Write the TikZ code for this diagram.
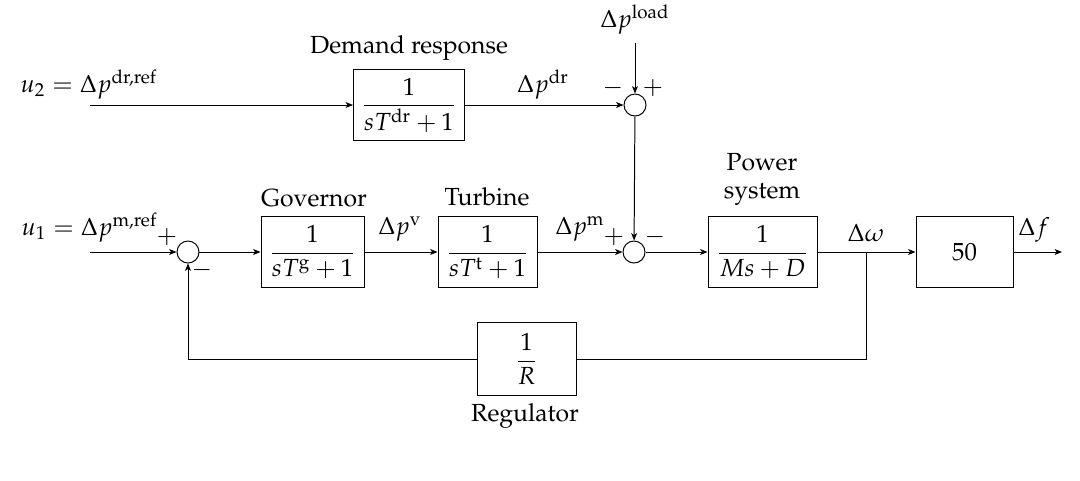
\documentclass[tikz,border=0pt]{standalone}
\usepackage[T1]{fontenc}
\usepackage{mathpazo}
\usetikzlibrary{arrows.meta}
\begin{document}
\begin{tikzpicture}[x=0.0142cm,y=-0.0142cm,
  arr/.style={-{Stealth[length=3pt,width=2.4pt,inset=0.8pt]}},
  blk/.style={draw, inner sep=2pt, minimum height=71*0.0142cm},
  sumnode/.style={draw, circle, inner sep=0pt, minimum size=22*0.0142cm},
  lbl/.style={anchor=base, inner sep=0pt}]
\useasboundingbox (0,0) rectangle (1080,480);

% top row
\coordinate (in2) at (90,105);
\node[blk, minimum width=111*0.0142cm] (dr) at (409,105) {$\displaystyle\frac{1}{sT^{\mathrm{dr}}+1}$};
\node[sumnode] (s0) at (635,105) {};
\coordinate (ld) at (635,43);
\node[lbl, anchor=base west] (lu2) at (20,92) {$u_2=\Delta p^{\mathrm{dr,ref}}$};
\node[lbl] (ldr) at (409,53) {Demand response};
\node[lbl] (lpdr) at (543,92) {$\Delta p^{\mathrm{dr}}$};
\node[lbl] (lload) at (635,27) {$\Delta p^{\mathrm{load}}$};
\node (m0) at (613,88) {$-$};
\node (p0) at (653,88) {$+$};

% bottom row
\coordinate (in1) at (90,252);
\node[sumnode] (s1) at (188,252) {};
\node[blk, minimum width=103*0.0142cm] (gov) at (312.5,252) {$\displaystyle\frac{1}{sT^{\mathrm{g}}+1}$};
\node[blk, minimum width=99*0.0142cm] (tur) at (487.5,252) {$\displaystyle\frac{1}{sT^{\mathrm{t}}+1}$};
\node[sumnode] (s2) at (634,252) {};
\node[blk, minimum width=109*0.0142cm] (ps) at (762.5,252) {$\displaystyle\frac{1}{Ms+D}$};
\node[blk, minimum width=97*0.0142cm] (fifty) at (964.5,252) {$50$};
\coordinate (out) at (1062,252);
\coordinate (br) at (866,252);
\coordinate (fbr) at (866,359);
\node[blk, minimum width=99*0.0142cm, minimum height=73*0.0142cm] (reg) at (526.5,359) {$\displaystyle\frac{1}{R}$};
\coordinate (fbl) at (188,359);

\node[lbl, anchor=base west] (lu1) at (21,235) {$u_1=\Delta p^{\mathrm{m,ref}}$};
\node (p1) at (167,237) {$+$};
\node (m1) at (202,270) {$-$};
\node[lbl] (lgov) at (314,206) {Governor};
\node[lbl] (lpv) at (400,234) {$\Delta p^{\mathrm{v}}$};
\node[lbl] (ltur) at (487,205) {Turbine};
\node[lbl] (lpm) at (580,234) {$\Delta p^{\mathrm{m}}$};
\node (p2) at (614,237) {$+$};
\node (m2) at (655,237) {$-$};
\node[lbl] (lps1) at (762,170) {Power};
\node[lbl] (lps2) at (762,198) {system};
\node[lbl] (lw) at (866,241) {$\Delta\omega$};
\node[lbl] (lf) at (1034,235) {$\Delta f$};
\node[lbl] (lreg) at (525,421) {Regulator};

% connectors
\draw[arr] (in2) -- (dr);
\draw[arr] (dr) -- (s0);
\draw[arr] (ld) -- (s0);
\draw[arr] (s0) -- (s2);
\draw[arr] (in1) -- (s1);
\draw[arr] (s1) -- (gov);
\draw[arr] (gov) -- (tur);
\draw[arr] (tur) -- (s2);
\draw[arr] (s2) -- (ps);
\draw[arr] (ps) -- (fifty);
\draw[arr] (fifty) -- (out);
\draw (br) -- (fbr) -- (reg);
\draw[arr] (reg) -- (fbl) -- (s1);
\end{tikzpicture}
\end{document}
